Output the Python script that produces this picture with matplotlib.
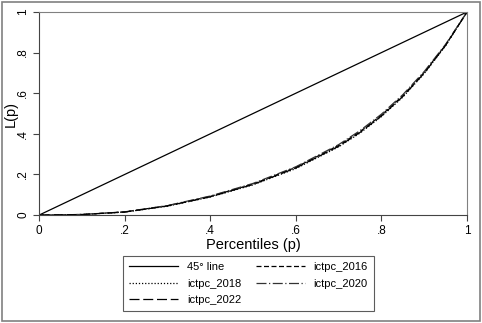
import matplotlib.pyplot as plt
from matplotlib.patches import Rectangle

plt.rcParams["font.family"] = ["Liberation Sans", "DejaVu Sans"]

# Lorenz curve ordinates read at these percentiles
pct = [0, 0.1, 0.2, 0.3, 0.4, 0.5, 0.6, 0.7, 0.75, 0.8, 0.85, 0.9, 0.95, 1.0]
ictpc_2016 = [0, 0.003, 0.016, 0.046, 0.092, 0.153, 0.235, 0.343, 0.411, 0.492, 0.588, 0.703, 0.838, 1.0]
ictpc_2018 = [0, 0.003, 0.015, 0.044, 0.089, 0.149, 0.229, 0.336, 0.404, 0.485, 0.581, 0.697, 0.834, 1.0]
ictpc_2020 = [0, 0.003, 0.016, 0.047, 0.094, 0.156, 0.238, 0.347, 0.416, 0.497, 0.593, 0.707, 0.841, 1.0]
ictpc_2022 = [0, 0.003, 0.015, 0.045, 0.090, 0.151, 0.232, 0.339, 0.407, 0.488, 0.584, 0.699, 0.836, 1.0]

ticks = [0, 0.2, 0.4, 0.6, 0.8, 1.0]
tick_labels = ["0", ".2", ".4", ".6", ".8", "1"]

fig = plt.figure(figsize=(4.82, 3.23), dpi=100)
fig.patches.append(Rectangle((0.004, 0.006), 0.992, 0.988, transform=fig.transFigure,
                             fill=False, edgecolor="#808080", linewidth=1.2))
ax = fig.add_axes([0.081, 0.334, 0.888, 0.629])

h45, = ax.plot([0, 1], [0, 1], color="black", lw=0.9, label="45° line")
h16, = ax.plot(pct, ictpc_2016, color="black", lw=0.9, ls=(0, (4, 2)), label="ictpc_2016")
h18, = ax.plot(pct, ictpc_2018, color="black", lw=0.9, ls=(0, (1, 1.5)), label="ictpc_2018")
h20, = ax.plot(pct, ictpc_2020, color="#333333", lw=0.9, ls=(0, (8, 2, 1, 2)), label="ictpc_2020")
h22, = ax.plot(pct, ictpc_2022, color="black", lw=0.9, ls=(0, (8, 3)), label="ictpc_2022")

ax.set_xlim(0, 1)
ax.set_ylim(0, 1)
ax.set_xticks(ticks)
ax.set_xticklabels(tick_labels)
ax.set_yticks(ticks)
ax.set_yticklabels(tick_labels, rotation=90, va="center")
ax.tick_params(labelsize=8.5, length=4, width=0.8, color="#444444", pad=3)
for s in ("top", "right"):
    ax.spines[s].set_color("#808080")
for s in ("left", "bottom"):
    ax.spines[s].set_color("#444444")
for s in ax.spines.values():
    s.set_linewidth(0.8)

ax.set_xlabel("Percentiles (p)", fontsize=10.5, labelpad=1)
ax.set_ylabel("L(p)", fontsize=10.5, va="center")
ax.yaxis.set_label_coords(-0.066, 0.5)

leg = fig.legend([h45, h18, h22, h16, h20],
                 ["45° line", "ictpc_2018", "ictpc_2022", "ictpc_2016", "ictpc_2020"],
                 ncol=2, loc="center", bbox_to_anchor=(0.516, 0.122),
                 fontsize=8, frameon=True, fancybox=False, handlelength=4.4,
                 columnspacing=1.3, labelspacing=0.6, borderpad=0.55)
leg.get_frame().set_edgecolor("#333333")
leg.get_frame().set_linewidth(0.8)

fig.savefig("out.png", dpi=100)
